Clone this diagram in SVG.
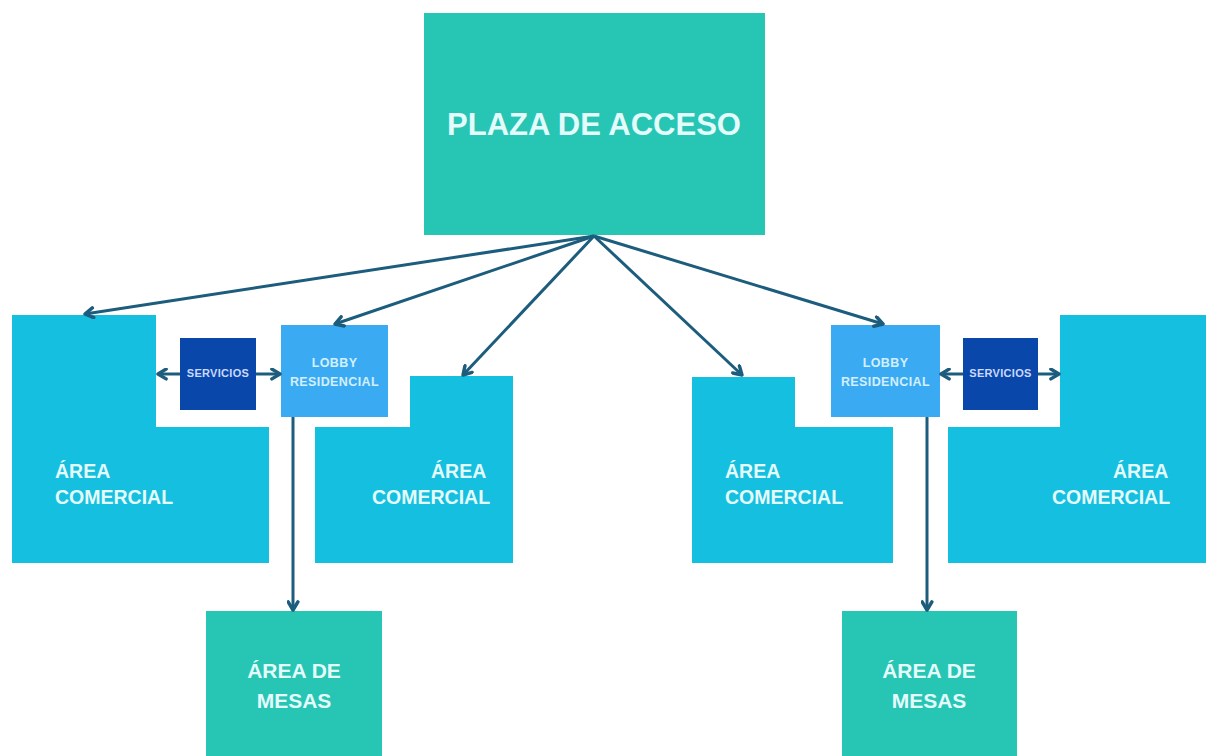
<svg xmlns="http://www.w3.org/2000/svg" width="1206" height="756" viewBox="0 0 1206 756">
<style>
.plaza{fill:#27c5b4}
.area{fill:#14bfe0}
.lobby{fill:#3aabf3}
.serv{fill:#0a47aa}
.t{font-family:"Liberation Sans",Arial,sans-serif;font-weight:bold}
.tw{fill:#e4fbfb}
.tl{fill:#d4efff}
.ts{fill:#c9d9ff}
.con{stroke:#1c5c7c;stroke-width:3;fill:none;marker-end:url(#ah)}
</style>
<defs>
<marker id="ah" viewBox="0 0 12 12" refX="10" refY="6" markerWidth="13" markerHeight="13" markerUnits="userSpaceOnUse" orient="auto">
<path d="M2.5,1.5 L10,6 L2.5,10.5" fill="none" stroke="#1c5c7c" stroke-width="3.2" stroke-linecap="round" stroke-linejoin="round"/>
</marker>
</defs>
<rect width="1206" height="756" fill="#ffffff"/>
<g id="plaza">
<rect class="plaza" x="424" y="13" width="341" height="222"/>
<text class="t tw" x="594" y="135" font-size="31" text-anchor="middle">PLAZA DE ACCESO</text>
</g>
<g id="area1">
<polygon class="area" points="12,315 156,315 156,427 269,427 269,563 12,563"/>
<text class="t tw" font-size="19.5"><tspan x="55" y="478">ÁREA</tspan><tspan x="55" y="504">COMERCIAL</tspan></text>
</g>
<g id="serv1">
<rect class="serv" x="180" y="338" width="76" height="72"/>
<text class="t ts" x="218" y="377" font-size="11" text-anchor="middle" letter-spacing="0.3">SERVICIOS</text>
</g>
<g id="lobby1">
<rect class="lobby" x="281" y="325" width="107" height="92"/>
<text class="t tl" font-size="12.5" text-anchor="middle" letter-spacing="0.4"><tspan x="334.5" y="367">LOBBY</tspan><tspan x="334.5" y="386">RESIDENCIAL</tspan></text>
</g>
<g id="area2">
<polygon class="area" points="410,376 513,376 513,563 315,563 315,427 410,427"/>
<text class="t tw" font-size="19.5"><tspan x="431" y="478">ÁREA</tspan><tspan x="372" y="504">COMERCIAL</tspan></text>
</g>
<g id="area3">
<polygon class="area" points="692,377 795,377 795,427 893,427 893,563 692,563"/>
<text class="t tw" font-size="19.5"><tspan x="725" y="478">ÁREA</tspan><tspan x="725" y="504">COMERCIAL</tspan></text>
</g>
<g id="lobby2">
<rect class="lobby" x="831" y="325" width="109" height="92"/>
<text class="t tl" font-size="12.5" text-anchor="middle" letter-spacing="0.4"><tspan x="885.5" y="367">LOBBY</tspan><tspan x="885.5" y="386">RESIDENCIAL</tspan></text>
</g>
<g id="serv2">
<rect class="serv" x="963" y="338" width="75" height="72"/>
<text class="t ts" x="1000.5" y="377" font-size="11" text-anchor="middle" letter-spacing="0.3">SERVICIOS</text>
</g>
<g id="area4">
<polygon class="area" points="1060,315 1206,315 1206,563 948,563 948,427 1060,427"/>
<text class="t tw" font-size="19.5"><tspan x="1113" y="478">ÁREA</tspan><tspan x="1052" y="504">COMERCIAL</tspan></text>
</g>
<g id="mesas1">
<rect class="plaza" x="206" y="611" width="176" height="150"/>
<text class="t tw" font-size="21" text-anchor="middle"><tspan x="294" y="678">ÁREA DE</tspan><tspan x="294" y="708">MESAS</tspan></text>
</g>
<g id="mesas2">
<rect class="plaza" x="842" y="611" width="175" height="150"/>
<text class="t tw" font-size="21" text-anchor="middle"><tspan x="929" y="678">ÁREA DE</tspan><tspan x="929" y="708">MESAS</tspan></text>
</g>
<g id="connectors">
<line class="con" x1="594" y1="236" x2="85" y2="314"/>
<line class="con" x1="594" y1="236" x2="335" y2="324"/>
<line class="con" x1="594" y1="236" x2="463" y2="375"/>
<line class="con" x1="594" y1="236" x2="742" y2="375"/>
<line class="con" x1="594" y1="236" x2="883" y2="324"/>
<line class="con" x1="293" y1="417" x2="293" y2="610"/>
<line class="con" x1="927" y1="417" x2="927" y2="610"/>
<line class="con" x1="180" y1="374" x2="158" y2="374"/>
<line class="con" x1="256" y1="374" x2="280" y2="374"/>
<line class="con" x1="963" y1="374" x2="941" y2="374"/>
<line class="con" x1="1038" y1="374" x2="1059" y2="374"/>
</g>
</svg>
